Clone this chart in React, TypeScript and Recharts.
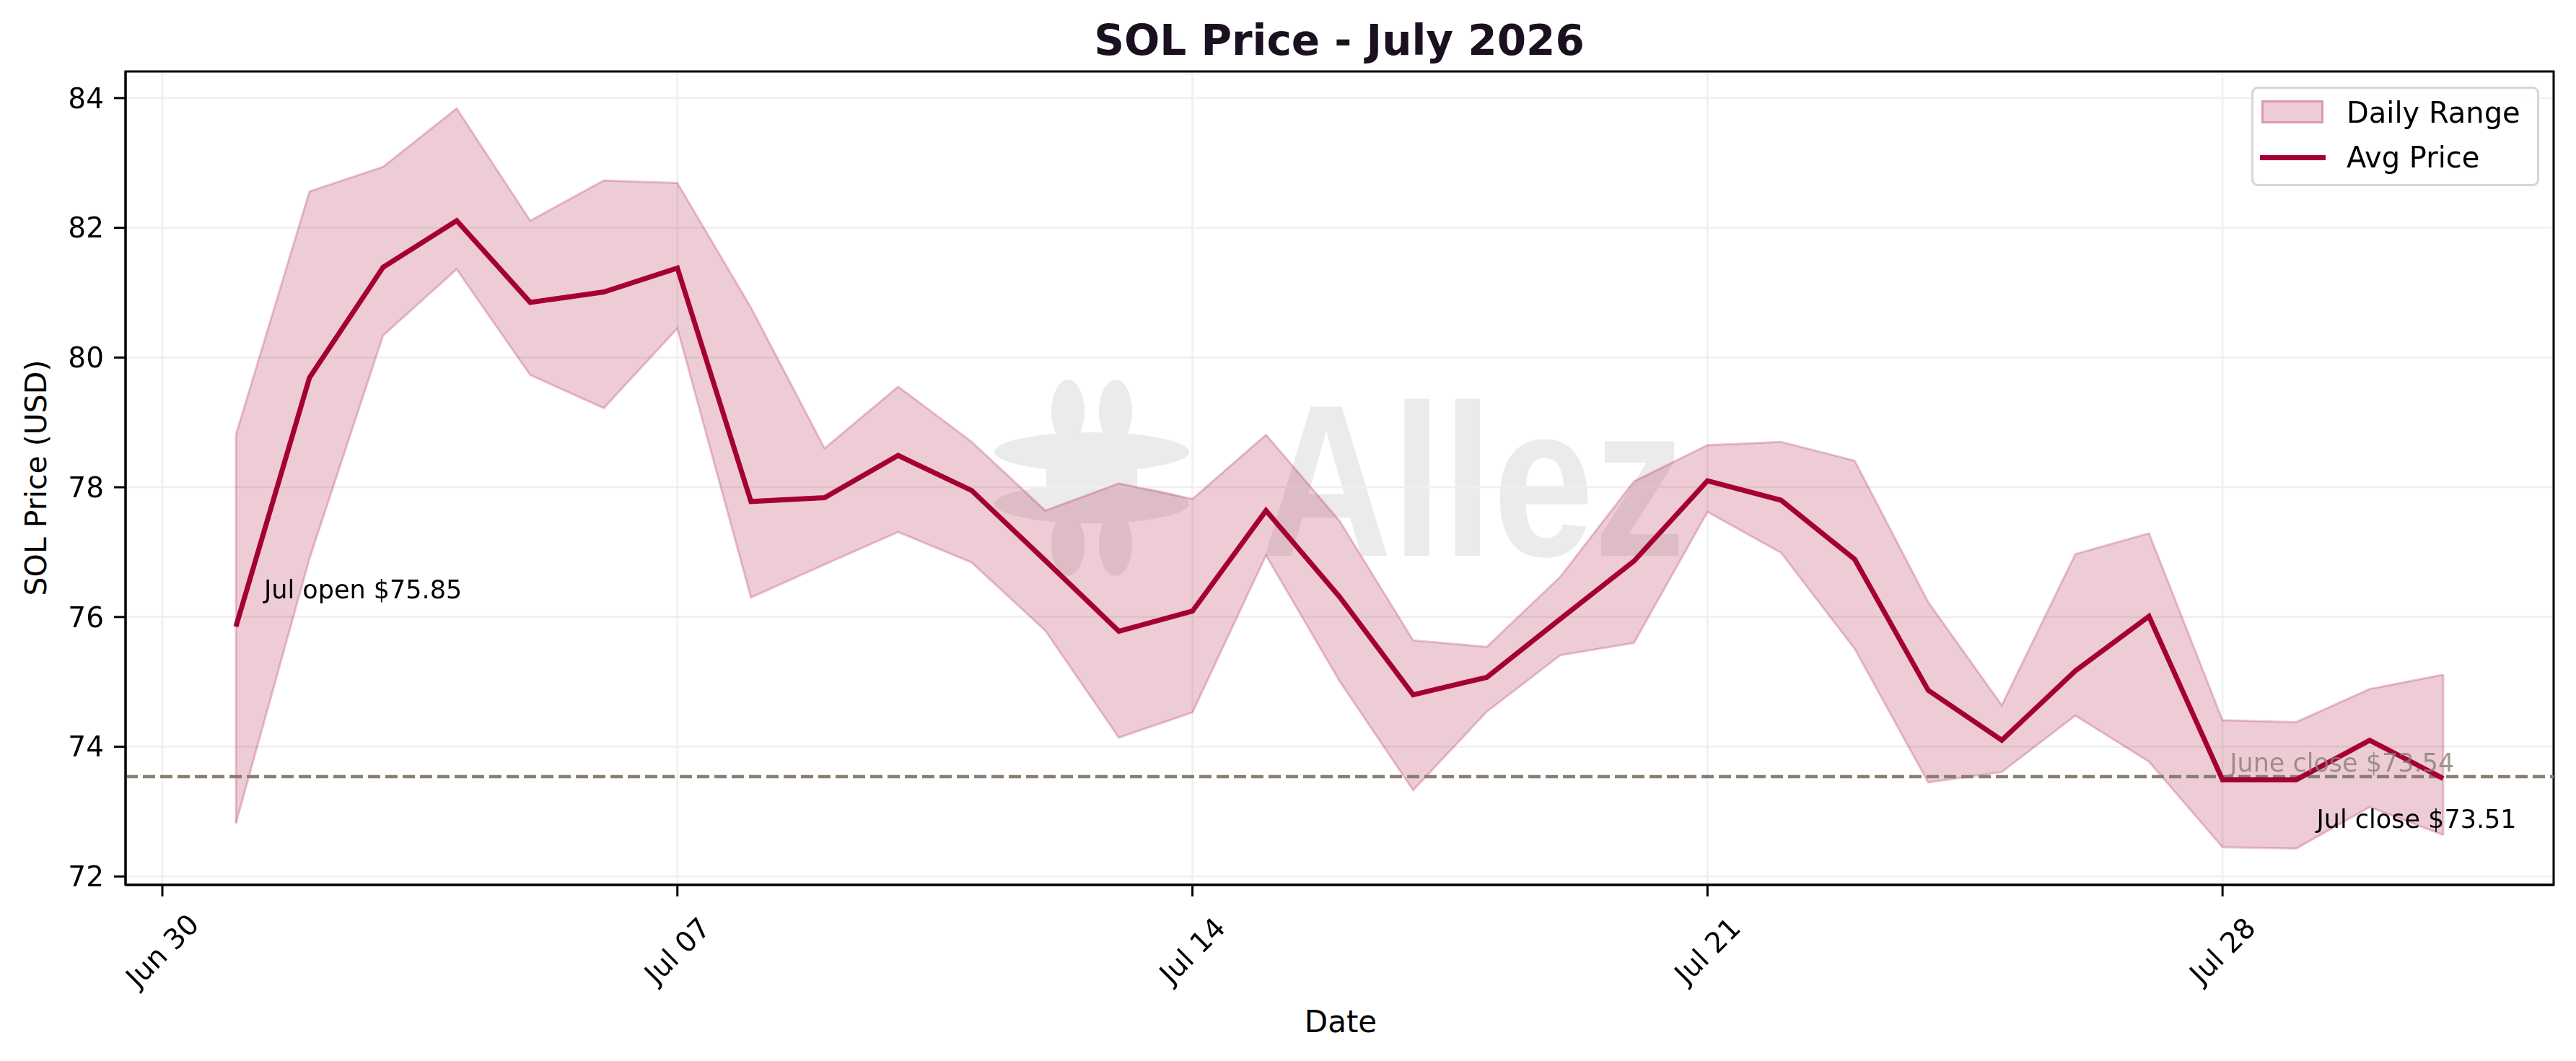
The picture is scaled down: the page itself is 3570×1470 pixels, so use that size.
import React from "react";
import {
  Area,
  CartesianGrid,
  ComposedChart,
  Line,
  ReferenceArea,
  ReferenceDot,
  ReferenceLine,
  XAxis,
  YAxis,
} from "recharts";

// day of July (Jun 30 = 0)
const DAYS = [1, 2, 3, 4, 5, 6, 7, 8, 9, 10, 11, 12, 13, 14, 15, 16, 17, 18, 19, 20, 21, 22, 23, 24, 25, 26, 27, 28, 29, 30, 31];
const AVG = [75.85, 79.69, 81.39, 82.11, 80.85, 81.01, 81.38, 77.78, 77.84, 78.49, 77.95, 76.87, 75.78, 76.09, 77.64, 76.31, 74.8, 75.07, 75.97, 76.86, 78.1, 77.8, 76.89, 74.87, 74.1, 75.17, 76.01, 73.49, 73.49, 74.1, 73.51];
const HIGH = [78.81, 82.56, 82.94, 83.84, 82.11, 82.73, 82.69, 80.77, 78.6, 79.55, 78.7, 77.64, 78.06, 77.82, 78.81, 77.48, 75.64, 75.54, 76.62, 78.09, 78.65, 78.7, 78.41, 76.23, 74.64, 76.97, 77.29, 74.41, 74.38, 74.89, 75.11];
const LOW = [72.82, 76.9, 80.34, 81.36, 79.73, 79.22, 80.45, 76.3, 76.81, 77.31, 76.84, 75.79, 74.14, 74.53, 76.95, 75.01, 73.33, 74.54, 75.41, 75.6, 77.62, 76.99, 75.51, 73.45, 73.61, 74.48, 73.77, 72.45, 72.43, 73.07, 72.64];

const X_TICKS = [0, 7, 14, 21, 28];
const X_TICK_LABELS = ["Jun 30", "Jul 07", "Jul 14", "Jul 21", "Jul 28"];
const Y_TICKS = [72, 74, 76, 78, 80, 82, 84];
const X_DOMAIN: [number, number] = [-0.5, 32.5];
const Y_DOMAIN: [number, number] = [71.87, 84.41];

const JUNE_CLOSE = 73.54;
const JUL_OPEN = 75.85;
const JUL_CLOSE = 73.51;

const RED = "#a50034";
const REF = "#8a7e74";
const FONT = "'DejaVu Sans', sans-serif";
const LINE_W = 7;

const rows = DAYS.map((d, i) => ({ day: d, range: [LOW[i], HIGH[i]], avg: AVG[i] }));

const XTick = (props: any) => {
  const { x, y, payload } = props;
  const label = X_TICK_LABELS[X_TICKS.indexOf(payload.value)];
  const cy = y + 73;
  return (
    <text x={x} y={cy} transform={`rotate(-45 ${x} ${cy})`} textAnchor="middle"
      dominantBaseline="central" fontSize={39} fill="#000" fontFamily={FONT}>
      {label}
    </text>
  );
};

const center = (vb: any) => ({ cx: vb.x + vb.width / 2, cy: vb.y + vb.height / 2 });

const OpenLabel = (props: any) => {
  const { cx, cy } = center(props.viewBox);
  return <text x={cx + 39} y={cy - 39} fontSize={35} fill="#000" fontFamily={FONT}>Jul open ${JUL_OPEN.toFixed(2)}</text>;
};
const CloseLabel = (props: any) => {
  const { cx, cy } = center(props.viewBox);
  return <text x={cx - 37} y={cy + 68} textAnchor="middle" fontSize={35} fill="#000" fontFamily={FONT}>Jul close ${JUL_CLOSE.toFixed(2)}</text>;
};
const JuneLabel = (props: any) => {
  const { cx, cy } = center(props.viewBox);
  return <text x={cx + 10} y={cy - 7} fontSize={35} fill={REF} fillOpacity={0.8} fontFamily={FONT}>June close ${JUNE_CLOSE.toFixed(2)}</text>;
};

function Backdrop() {
  return (
    <svg width={3570} height={1470} style={{ position: "absolute", left: 0, top: 0 }}>
      <text x={1856} y={76} textAnchor="middle" fontSize={58} fontWeight="bold" fill="#1a1020" fontFamily={FONT}>
        SOL Price - July 2026
      </text>
      <text x={1858} y={1430} textAnchor="middle" fontSize={42} fill="#000" fontFamily={FONT}>Date</text>
      <text x={50} y={662} transform="rotate(-90 50 662)" textAnchor="middle" dominantBaseline="central"
        fontSize={41} fill="#000" fontFamily={FONT}>SOL Price (USD)</text>
      {/* watermark */}
      <g opacity={0.08} fill="#000">
        <g transform="translate(1513,662)">
          <ellipse cx={0} cy={-36} rx={135} ry={27} />
          <ellipse cx={0} cy={36} rx={135} ry={27} />
          <rect x={-63} y={-62} width={126} height={124} rx={28} />
          <ellipse cx={-33} cy={-92} rx={23} ry={44} />
          <ellipse cx={33} cy={-92} rx={23} ry={44} />
          <ellipse cx={-33} cy={92} rx={23} ry={44} />
          <ellipse cx={33} cy={92} rx={23} ry={44} />
        </g>
        <text x={1747} y={770} fontSize={300} fontWeight="bold" fontFamily="'Liberation Sans', Arial, sans-serif"
          textLength={588} lengthAdjust="spacingAndGlyphs">Allez</text>
      </g>
    </svg>
  );
}

function LegendBox() {
  return (
    <div style={{
      position: "absolute", left: 3120, top: 120, width: 393, height: 132,
      border: "3px solid #d6d6d6", borderRadius: 9, background: "rgba(255,255,255,0.8)",
      fontFamily: FONT, fontSize: 40, color: "#000",
    }}>
      <div style={{
        position: "absolute", left: 11, top: 16, width: 80, height: 26,
        background: "rgba(165,0,52,0.2)", border: "3px solid rgba(165,0,52,0.25)",
      }} />
      <div style={{ position: "absolute", left: 129, top: 33, transform: "translateY(-50%)", whiteSpace: "nowrap" }}>Daily Range</div>
      <div style={{ position: "absolute", left: 9, top: 92, width: 91, height: LINE_W, background: RED }} />
      <div style={{ position: "absolute", left: 129, top: 95, transform: "translateY(-50%)", whiteSpace: "nowrap" }}>Avg Price</div>
    </div>
  );
}

export default function App() {
  return (
    <div style={{ position: "relative", width: 3570, height: 1470, background: "#fff", fontFamily: FONT }}>
      <style>{"body{margin:0}"}</style>
      <Backdrop />
      <div style={{ position: "absolute", left: 0, top: 0 }}>
        <ComposedChart width={3570} height={1470} data={rows}
          margin={{ top: 99, right: 31, bottom: 44, left: 24 }}>
          <CartesianGrid stroke="#efefef" strokeWidth={2.5} />
          <XAxis dataKey="day" type="number" domain={X_DOMAIN} ticks={X_TICKS} interval={0}
            allowDataOverflow tick={<XTick />} tickSize={16} height={200}
            tickLine={{ stroke: "#000", strokeWidth: 3 }} axisLine={{ stroke: "#000", strokeWidth: 3 }} />
          <YAxis type="number" domain={Y_DOMAIN} ticks={Y_TICKS} allowDataOverflow width={150}
            tickSize={16} tickMargin={14} tick={{ fontSize: 39, fill: "#000", fontFamily: FONT }}
            tickLine={{ stroke: "#000", strokeWidth: 3 }} axisLine={{ stroke: "#000", strokeWidth: 3 }} />
          <Area type="linear" dataKey="range" fill={RED} fillOpacity={0.2} stroke={RED}
            strokeOpacity={0.22} strokeWidth={3} isAnimationActive={false} legendType="none" />
          <ReferenceLine segment={[{ x: DAYS[0], y: LOW[0] }, { x: DAYS[0], y: HIGH[0] }]}
            stroke={RED} strokeOpacity={0.22} strokeWidth={3} />
          <ReferenceLine segment={[{ x: DAYS[30], y: LOW[30] }, { x: DAYS[30], y: HIGH[30] }]}
            stroke={RED} strokeOpacity={0.22} strokeWidth={3} />
          <ReferenceLine y={JUNE_CLOSE} stroke={REF} strokeWidth={4.5} strokeDasharray="17 7" />
          <Line type="linear" dataKey="avg" stroke={RED} strokeWidth={LINE_W} dot={false}
            isAnimationActive={false} strokeLinejoin="miter" />
          <ReferenceDot x={DAYS[0]} y={JUL_OPEN} r={1} fill="none" stroke="none" label={{ content: OpenLabel }} />
          <ReferenceDot x={DAYS[30]} y={JUL_CLOSE} r={1} fill="none" stroke="none" label={{ content: CloseLabel }} />
          <ReferenceDot x={28} y={JUNE_CLOSE} r={1} fill="none" stroke="none" label={{ content: JuneLabel }} />
          <ReferenceArea x1={X_DOMAIN[0]} x2={X_DOMAIN[1]} y1={Y_DOMAIN[0]} y2={Y_DOMAIN[1]}
            fill="none" stroke="#000" strokeWidth={3} />
        </ComposedChart>
      </div>
      <LegendBox />
    </div>
  );
}
